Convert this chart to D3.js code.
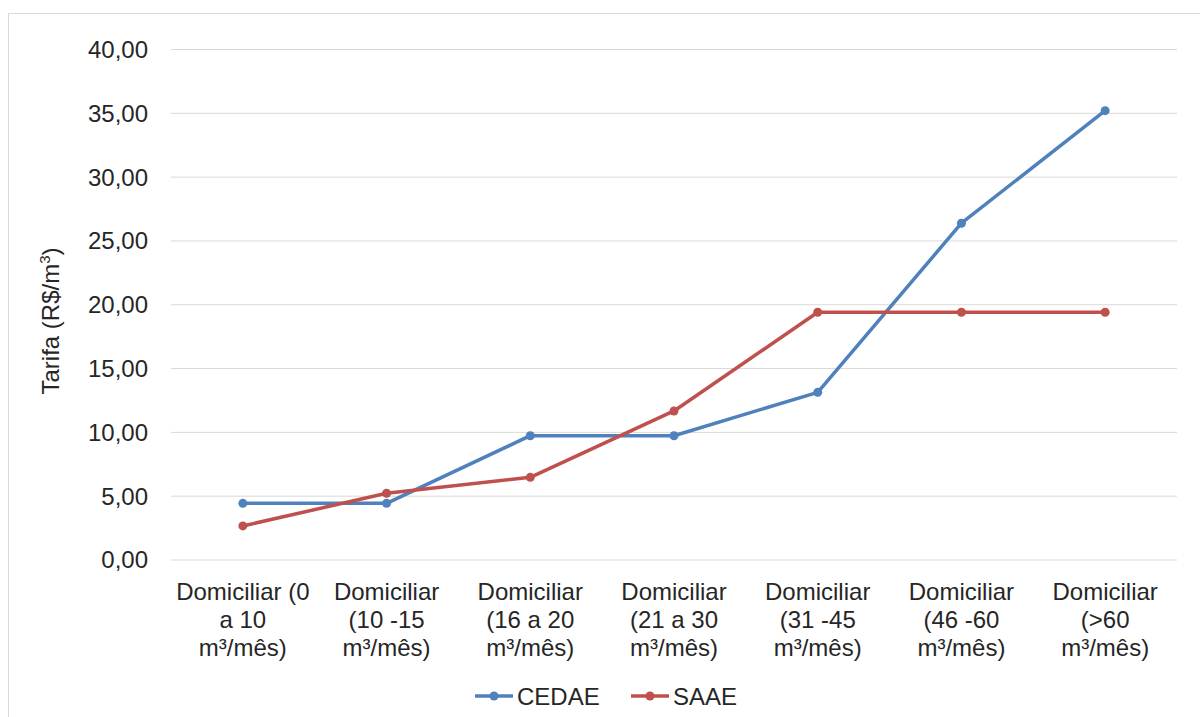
<!DOCTYPE html>
<html>
<head>
<meta charset="utf-8">
<script src="https://cdn.jsdelivr.net/npm/d3@7"></script>
<style>
  body { margin: 0; background: #fff; }
  text { font-family: "Liberation Sans", Arial, sans-serif; fill: #262626; }
</style>
</head>
<body>
<div id="chart"></div>
<script>
// data
var categories = ["Domiciliar (0 a 10 m³/mês)", "Domiciliar (10 -15 m³/mês)", "Domiciliar (16 a 20 m³/mês)",
  "Domiciliar (21 a 30 m³/mês)", "Domiciliar (31 -45 m³/mês)", "Domiciliar (46 -60 m³/mês)", "Domiciliar (>60 m³/mês)"]
var tickLines = [
  ["Domiciliar (0", "a 10", "m³/mês)"],
  ["Domiciliar", "(10 -15", "m³/mês)"],
  ["Domiciliar", "(16 a 20", "m³/mês)"],
  ["Domiciliar", "(21 a 30", "m³/mês)"],
  ["Domiciliar", "(31 -45", "m³/mês)"],
  ["Domiciliar", "(46 -60", "m³/mês)"],
  ["Domiciliar", "(>60", "m³/mês)"]
]
var cedae = [4.40, 4.40, 9.70, 9.70, 13.10, 26.35, 35.17]
var saae = [2.63, 5.19, 6.44, 11.64, 19.37, 19.37, 19.37]
var yTicks = [0, 5, 10, 15, 20, 25, 30, 35, 40]
var seriesNames = ["CEDAE", "SAAE"]
var seriesColors = ["#4F81BD", "#C0504D"]

var width = 1200
var height = 717
var margin = {top: 49, right: 23, bottom: 157.5, left: 171}

var svg = d3.select('#chart')
  .append('svg')
  .attr('width', width)
  .attr('height', height)

// chart border
svg.append('rect')
  .attr('x', 8.5).attr('y', 13.5)
  .attr('width', 1200).attr('height', 800)
  .attr('fill', 'none')
  .attr('stroke', '#d9d9d9')
  .attr('stroke-width', 1)

var x = d3.scaleBand()
  .domain(categories)
  .range([margin.left, width - margin.right])

var y = d3.scaleLinear()
  .domain([0, 40])
  .range([height - margin.bottom, margin.top])

var fmt = function (d) { return d3.format('.2f')(d).replace('.', ',') }

// gridlines + y labels
var yAxis = svg.append('g')
  .attr('transform', 'translate(' + margin.left + ',0)')
  .call(d3.axisLeft(y).tickValues(yTicks).tickFormat(fmt)
    .tickSize(-(width - margin.left - margin.right)).tickPadding(23))
yAxis.select('.domain').remove()
yAxis.selectAll('.tick line').attr('stroke', '#d9d9d9').attr('stroke-width', 1)
yAxis.selectAll('.tick text')
  .attr('font-size', '24px')
  .attr('fill', '#262626')
  .attr('dy', '0.35em')

// y title
var yt = svg.append('text')
  .attr('transform', 'translate(59,321) rotate(-90)')
  .attr('text-anchor', 'middle')
  .attr('font-size', '24px')
yt.append('tspan').text('Tarifa (R$/m')
yt.append('tspan').attr('font-size', '15px').attr('dy', '-9').text('3')
yt.append('tspan').attr('dy', '9').text(')')

// x labels
var xl = svg.append('g')
categories.forEach(function (c, i) {
  var t = xl.append('text')
    .attr('x', x(c) + x.bandwidth() / 2)
    .attr('y', 600)
    .attr('text-anchor', 'middle')
    .attr('font-size', '24px')
  tickLines[i].forEach(function (s, j) {
    t.append('tspan')
      .attr('x', x(c) + x.bandwidth() / 2)
      .attr('y', 600 + j * 28)
      .text(s)
  })
})

// lines
var line = d3.line()
  .x(function (d, i) { return x(categories[i]) + x.bandwidth() / 2 })
  .y(function (d) { return y(d) })

;[cedae, saae].forEach(function (vals, k) {
  svg.append('path')
    .datum(vals)
    .attr('d', line)
    .attr('fill', 'none')
    .attr('stroke', seriesColors[k])
    .attr('stroke-width', 3.5)
    .attr('stroke-linejoin', 'round')
  svg.selectAll('.pt' + k)
    .data(vals)
    .enter().append('circle')
    .attr('cx', function (d, i) { return x(categories[i]) + x.bandwidth() / 2 })
    .attr('cy', function (d) { return y(d) })
    .attr('r', 4.5)
    .attr('fill', seriesColors[k])
})

// legend
var legX = [475, 631]
seriesNames.forEach(function (n, k) {
  var g = svg.append('g').attr('transform', 'translate(' + legX[k] + ',696)')
  g.append('line')
    .attr('x1', 0).attr('x2', 38)
    .attr('stroke', seriesColors[k]).attr('stroke-width', 3.5)
  g.append('circle').attr('cx', 19).attr('r', 4.5).attr('fill', seriesColors[k])
  g.append('text')
    .attr('x', 42).attr('dy', '0.36em')
    .attr('font-size', '24px')
    .text(n)
})
</script>
</body>
</html>
